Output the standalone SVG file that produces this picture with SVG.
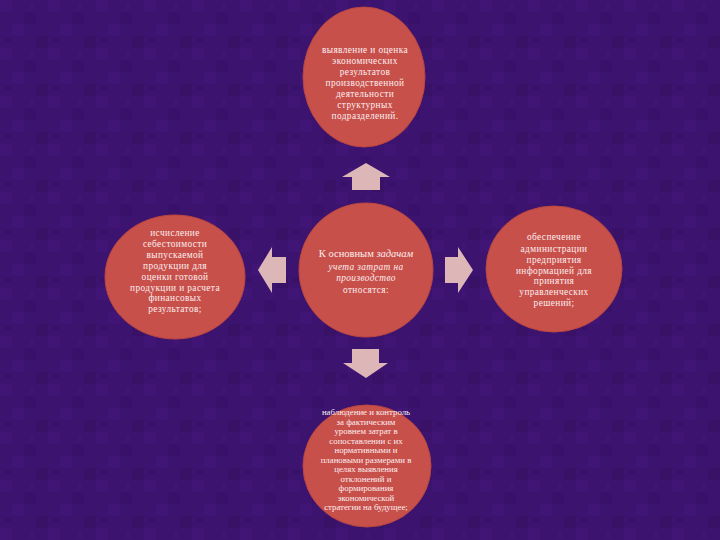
<svg xmlns="http://www.w3.org/2000/svg" width="720" height="540" viewBox="0 0 720 540">
<defs>
<pattern id="tex" width="48" height="48" patternUnits="userSpaceOnUse">
<rect width="48" height="48" fill="#3d1370"/>
<rect x="0" y="0" width="12" height="12" fill="#42167a" opacity="0.7"/>
<rect x="24" y="12" width="12" height="12" fill="#381068" opacity="0.7"/>
<rect x="12" y="24" width="12" height="12" fill="#45187c" opacity="0.5"/>
<rect x="36" y="36" width="12" height="12" fill="#371064" opacity="0.7"/>
<rect x="30" y="2" width="4" height="8" fill="#47197f" opacity="0.4"/>
<rect x="4" y="38" width="8" height="4" fill="#361063" opacity="0.6"/>
</pattern>
</defs>
<style>
.node{fill:#c8504b;stroke:#b94640;stroke-width:1}
.arrow{fill:#ddb7b8}
.t{font-family:"Liberation Serif","DejaVu Serif",serif;fill:#fbeeee;text-anchor:middle}
.s9{font-size:9.3px;letter-spacing:0.4px}
.s85{font-size:8.8px}
.c{font-size:10.5px}
.i{font-style:italic}
</style>
<rect width="720" height="540" fill="url(#tex)"/>
<g id="connectors">
<polygon class="arrow" points="366,163 390,177 380,177 380,190 352,190 352,177 342,177"/>
<polygon class="arrow" points="258,270 272,247 272,257 286,257 286,283 272,283 272,293"/>
<polygon class="arrow" points="473,270 458,247 458,257 445,257 445,283 458,283 458,293"/>
<polygon class="arrow" points="366,378 388,363 379,363 379,349 352,349 352,363 343,363"/>
</g>
<g id="node-top">
<ellipse class="node" cx="364" cy="77" rx="61" ry="70"/>
<text class="t s9" x="365" y="53">выявление и оценка</text>
<text class="t s9" x="365" y="64">экономических</text>
<text class="t s9" x="365" y="75">результатов</text>
<text class="t s9" x="365" y="86">производственной</text>
<text class="t s9" x="365" y="97">деятельности</text>
<text class="t s9" x="365" y="108">структурных</text>
<text class="t s9" x="365" y="119">подразделений.</text>
</g>
<g id="node-left">
<ellipse class="node" cx="175" cy="277" rx="70" ry="62"/>
<text class="t s9" x="175" y="236">исчисление</text>
<text class="t s9" x="175" y="247">себестоимости</text>
<text class="t s9" x="175" y="258">выпускаемой</text>
<text class="t s9" x="175" y="269">продукции для</text>
<text class="t s9" x="175" y="280">оценки готовой</text>
<text class="t s9" x="175" y="291">продукции и расчета</text>
<text class="t s9" x="175" y="301">финансовых</text>
<text class="t s9" x="175" y="312">результатов;</text>
</g>
<g id="node-center">
<circle class="node" cx="366" cy="270" r="67"/>
<text class="t c" x="366" y="257">К основным <tspan class="i">задачам</tspan></text>
<text class="t s9 i" x="366" y="270">учета затрат на</text>
<text class="t s9 i" x="366" y="281">производство</text>
<text class="t s9" x="366" y="293">относятся:</text>
</g>
<g id="node-right">
<ellipse class="node" cx="554" cy="269" rx="68" ry="63"/>
<text class="t s9" x="554" y="240">обеспечение</text>
<text class="t s9" x="554" y="252">администрации</text>
<text class="t s9" x="554" y="263">предприятия</text>
<text class="t s9" x="554" y="274">информацией для</text>
<text class="t s9" x="554" y="284">принятия</text>
<text class="t s9" x="554" y="295">управленческих</text>
<text class="t s9" x="554" y="306">решений;</text>
</g>
<g id="node-bottom">
<ellipse class="node" cx="367" cy="466" rx="64" ry="61"/>
<text class="t s85" x="366" y="415">наблюдение и контроль</text>
<text class="t s85" x="366" y="425">за фактическим</text>
<text class="t s85" x="366" y="434">уровнем затрат в</text>
<text class="t s85" x="366" y="444">сопоставлении с их</text>
<text class="t s85" x="366" y="453">нормативными и</text>
<text class="t s85" x="366" y="463">плановыми размерами в</text>
<text class="t s85" x="366" y="472">целях выявления</text>
<text class="t s85" x="366" y="482">отклонений и</text>
<text class="t s85" x="366" y="491">формирования</text>
<text class="t s85" x="366" y="501">экономической</text>
<text class="t s85" x="366" y="510">стратегии на будущее;</text>
</g>
</svg>
